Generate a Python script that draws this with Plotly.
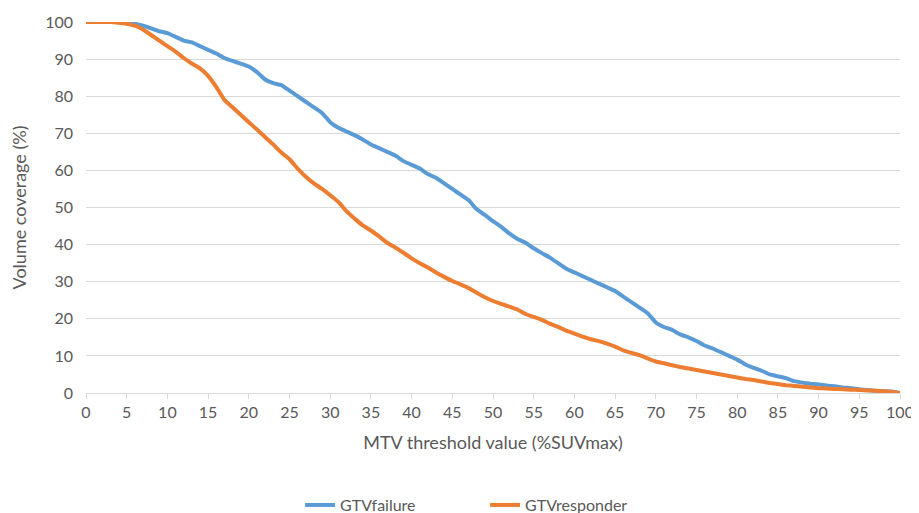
import plotly.graph_objects as go

threshold = list(range(0, 101))

gtv_failure = [
    100, 100, 100, 100, 100, 99.8, 99.5, 99, 98.3, 97.5,
    97, 96, 95, 94.5, 93.5, 92.5, 91.5, 90.3, 89.5, 88.8,
    88, 86.5, 84.5, 83.5, 83, 81.5, 80, 78.5, 77, 75.5,
    73, 71.5, 70.5, 69.5, 68.3, 67, 66, 65, 64, 62.5,
    61.5, 60.5, 59, 58, 56.5, 55, 53.5, 52, 49.5, 48,
    46.3, 44.8, 43, 41.5, 40.5, 39, 37.7, 36.5, 35, 33.5,
    32.5, 31.5, 30.5, 29.5, 28.5, 27.5, 26, 24.5, 23, 21.5,
    19, 17.8, 17, 15.8, 15, 14, 12.8, 12, 11, 10,
    9, 7.7, 6.8, 6, 5, 4.5, 4, 3.2, 2.8, 2.5,
    2.3, 2, 1.8, 1.5, 1.3, 1, 0.8, 0.6, 0.5, 0.4,
    0,
]

gtv_responder = [
    100, 100, 100, 100, 99.8, 99.5, 99, 98, 96.5, 95,
    93.5, 92, 90.3, 88.8, 87.5, 85.5, 82.5, 79, 77, 75,
    73, 71, 69, 67, 64.8, 63, 60.5, 58.3, 56.5, 55,
    53.3, 51.5, 49, 47, 45.2, 43.8, 42.2, 40.5, 39.2, 37.8,
    36.3, 35, 33.8, 32.5, 31.3, 30.2, 29.3, 28.3, 27, 25.8,
    24.8, 24, 23.3, 22.5, 21.3, 20.5, 19.7, 18.7, 17.8, 16.8,
    16, 15.2, 14.5, 14, 13.3, 12.5, 11.5, 10.8, 10.2, 9.3,
    8.5, 8, 7.5, 7, 6.6, 6.2, 5.8, 5.4, 5, 4.6,
    4.2, 3.8, 3.5, 3.1, 2.7, 2.4, 2.1, 1.9, 1.7, 1.5,
    1.3, 1.2, 1.1, 1, 0.9, 0.8, 0.7, 0.6, 0.5, 0.3,
    0,
]

x_ticks = list(range(0, 101, 5))
y_ticks = list(range(0, 101, 10))

FONT = "Lato, 'Open Sans', sans-serif"
GRAY = "#595959"

fig = go.Figure()
fig.add_trace(go.Scatter(x=threshold, y=gtv_failure, mode="lines", name="GTVfailure",
                         line=dict(color="#5B9BD5", width=4, shape="spline", smoothing=0.3)))
fig.add_trace(go.Scatter(x=threshold, y=gtv_responder, mode="lines", name="GTVresponder",
                         line=dict(color="#ED7D31", width=4, shape="spline", smoothing=0.3)))

fig.update_layout(
    width=911, height=505,
    margin=dict(l=78, r=19, t=14, b=120, autoexpand=False),
    paper_bgcolor="white", plot_bgcolor="white",
    font=dict(family=FONT, size=16, color=GRAY),
    showlegend=True,
    legend=dict(orientation="h", x=0.263, xanchor="left", y=-0.302, yanchor="middle",
                font=dict(size=16, color=GRAY), itemwidth=30, tracegroupgap=0,
                entrywidth=140, entrywidthmode="pixels"),
    xaxis=dict(
        range=[0, 100], tickmode="array", tickvals=x_ticks, ticktext=[str(v) for v in x_ticks],
        showgrid=False, zeroline=False, showline=True, linecolor="#D9D9D9", linewidth=1,
        ticks="outside", ticklen=5, tickcolor="#D9D9D9", automargin=False,
        tickfont=dict(size=16),
        title=dict(text="MTV threshold value (%SUVmax)", font=dict(size=18, color=GRAY), standoff=16),
    ),
    yaxis=dict(
        range=[0, 100], tickmode="array", tickvals=y_ticks,
        showgrid=True, gridcolor="#D9D9D9", gridwidth=1, zeroline=False,
        showline=False, ticks="", ticklabelstandoff=12, automargin=False,
        tickfont=dict(size=16),
        title=dict(text="Volume coverage (%)", font=dict(size=18, color=GRAY), standoff=16),
    ),
)

fig.write_html("out.html")
